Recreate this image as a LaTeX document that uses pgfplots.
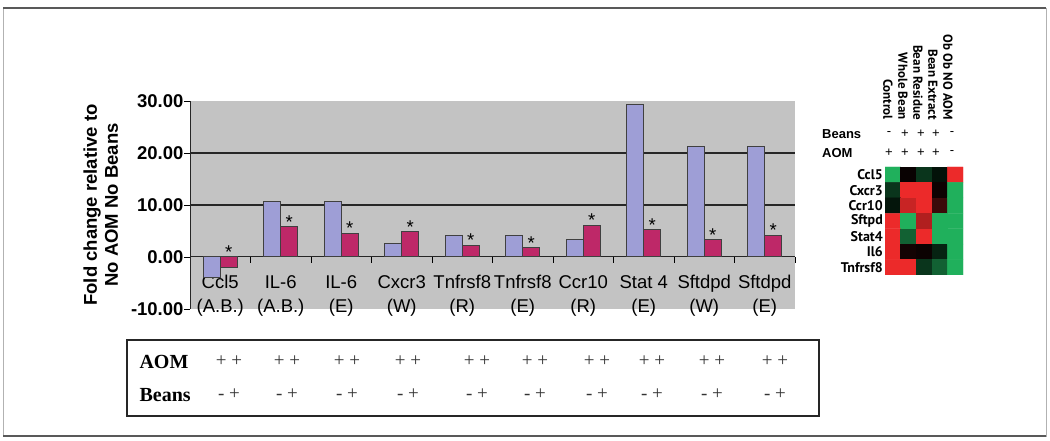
\documentclass[border=0pt]{standalone}
\usepackage{pgfplots}
\pgfplotsset{compat=1.18}
\usepackage{pgfplotstable}
\usepackage{fontspec}
\setmainfont{Liberation Sans}
\newfontfamily\timesf{Liberation Serif}
\newfontfamily\ptsans{PT Sans}
\definecolor{lav}{RGB}{158,158,214}
\definecolor{crim}{RGB}{190,40,104}
\definecolor{plotgray}{RGB}{195,195,195}

\pgfplotstableread{
x lav crim
0.5 -4.0 -2.0
1.5 10.7 5.8
2.5 10.7 4.6
3.5 2.5 4.9
4.5 4.1 2.3
5.5 4.1 1.8
6.5 3.3 6.1
7.5 29.4 5.3
8.5 21.3 3.3
9.5 21.3 4.2
}\barsdata

\pgfplotstableread{
x y c
0 0 -1
1 0 0.04
2 0 -0.3
3 0 -0.1
4 0 1
0 1 -0.3
1 1 1
2 1 1
3 1 0.06
4 1 -1
0 2 -0.12
1 2 0.85
2 2 1
3 2 0.25
4 2 -1
0 3 1
1 3 -1
2 3 0.75
3 3 -1
4 3 -1
0 4 1
1 4 -0.55
2 4 1
3 4 -1
4 4 -1
0 5 1
1 5 0.08
2 5 0.05
3 5 -0.2
4 5 -1
0 6 1
1 6 1
2 6 -0.3
3 6 -0.55
4 6 -1
}\heatdata

\begin{document}
\begin{tikzpicture}[x=1pt,y=1pt]
\useasboundingbox (0,0) rectangle (1050,441);
\draw[gray!60, line width=0.8pt] (3,5) rectangle (1046,433);
\draw[black!65, line width=2pt] (3,433) -- (1046,433);
\draw[black!65, line width=2.5pt] (3,5) -- (1046,5);

\begin{axis}[
  at={(190pt,132pt)}, anchor=south west, scale only axis,
  width=605pt, height=208pt,
  xmin=0, xmax=10, ymin=-10, ymax=30,
  axis x line=middle, axis y line=left,
  axis line style={-, line width=1pt, black!85},
  axis background/.style={fill=plotgray},
  hide obscured x ticks=false, hide obscured y ticks=false,
  ybar=0pt, bar width=17pt,
  xtick={0.5,1.5,...,9.5},
  xticklabels={{Ccl5\\(A.B.)},{IL-6\\(A.B.)},{IL-6\\(E)},{Cxcr3\\(W)},{Tnfrsf8\\(R)},{Tnfrsf8\\(E)},{Ccr10\\(R)},{Stat 4\\(E)},{Sftdpd\\(W)},{Sftdpd\\(E)}},
  minor xtick={1,...,10},
  tick align=center,
  major tick length=6pt, minor tick length=6pt,
  major x tick style={draw=none},
  minor x tick style={yshift=-3pt, black, line width=0.8pt},
  major y tick style={xshift=-3pt, black, line width=0.8pt},
  ytick={-10,0,...,30},
  extra y ticks={10,20}, extra y tick labels={},
  extra y tick style={grid=major, major grid style={black!85, line width=1.2pt}, major tick length=0pt},
  xticklabel style={font=\fontsize{18.5}{24}\selectfont, align=center, yshift=-12pt},
  yticklabel style={font=\fontsize{18.5}{20}\selectfont\bfseries, /pgf/number format/.cd, fixed, fixed zerofill, precision=2, assume math mode=true},
  ylabel={Fold change relative to\\No AOM No Beans},
  ylabel style={font=\fontsize{18.5}{21}\selectfont\bfseries, align=center, yshift=3pt},
  clip=false,
]
\addplot[fill=lav, draw=black!75, line width=1pt] table[x=x,y=lav]{\barsdata};
\addplot[fill=crim, draw=black!75, line width=1pt] table[x=x,y=crim]{\barsdata};
\foreach \xx/\yy in {0.64/0, 1.64/5.8, 2.64/4.6, 3.64/4.9, 4.64/2.3, 5.64/1.8, 6.64/6.1, 7.64/5.3, 8.64/3.3, 9.64/4.2} {
  \edef\tmp{\noexpand\node[anchor=base, yshift=-1.6pt, inner sep=0pt, font=\noexpand\fontsize{18.5}{20}\noexpand\selectfont] at (axis cs:\xx,\yy) {*};}
  \tmp
}
\end{axis}

% treatment table
\draw[line width=1.8pt, black!85] (127,25) rectangle (819,101);
\node[anchor=west, font=\timesf\bfseries\fontsize{20}{22}\selectfont] at (136,79) {AOM};
\node[anchor=west, font=\timesf\bfseries\fontsize{20}{22}\selectfont] at (136,46) {Beans};
\foreach \xx in {229,287,347,408,477,535,597,652,712,775} {
  \node[font=\timesf\fontsize{19}{20}\selectfont, text=black!80] at (\xx,80) {+ +};
  \node[font=\timesf\fontsize{19}{20}\selectfont, text=black!80] at (\xx,47) {- +};
}

% heatmap
\begin{axis}[
  at={(885pt,166pt)}, anchor=south west, scale only axis,
  width=78pt, height=108pt,
  xmin=-0.5, xmax=4.5, ymin=-0.5, ymax=6.5, y dir=reverse,
  axis line style={draw=none}, tick style={draw=none},
  xtick=\empty, ytick={0,...,6},
  yticklabels={Ccl5,Cxcr3,Ccr10,Sftpd,Stat4,Il6,Tnfrsf8},
  yticklabel style={font=\ptsans\bfseries\fontsize{14}{15}\selectfont, inner sep=2pt},
  colormap={rgk}{rgb255(0cm)=(32,176,92); rgb255(1cm)=(0,0,0); rgb255(2cm)=(236,42,42)},
  point meta min=-1, point meta max=1,
]
\addplot[matrix plot*, mesh/cols=5, point meta=explicit] table[x=x,y=y,meta=c]{\heatdata};
\end{axis}

\foreach \xx/\t in {888/Control, 903/Whole Bean, 918/Bean Residue, 933/Bean Extract, 948/Ob Ob NO AOM} {
  \node[rotate=-90, anchor=east, inner sep=0pt, font=\ptsans\bfseries\fontsize{13}{14}\selectfont] at (\xx,321) {\t};
}
\node[anchor=west, inner sep=0pt, font=\bfseries\fontsize{13}{14}\selectfont] at (822,307) {Beans};
\node[anchor=west, inner sep=0pt, font=\bfseries\fontsize{13}{14}\selectfont] at (822,288) {AOM};
\foreach \xx/\s in {889/-, 905/+, 921/+, 936/+, 952/-} {
  \node[font=\fontsize{13}{14}\selectfont] at (\xx,307) {\s};
}
\foreach \xx/\s in {889/+, 905/+, 921/+, 936/+, 952/-} {
  \node[font=\fontsize{13}{14}\selectfont] at (\xx,288) {\s};
}
\end{tikzpicture}
\end{document}
